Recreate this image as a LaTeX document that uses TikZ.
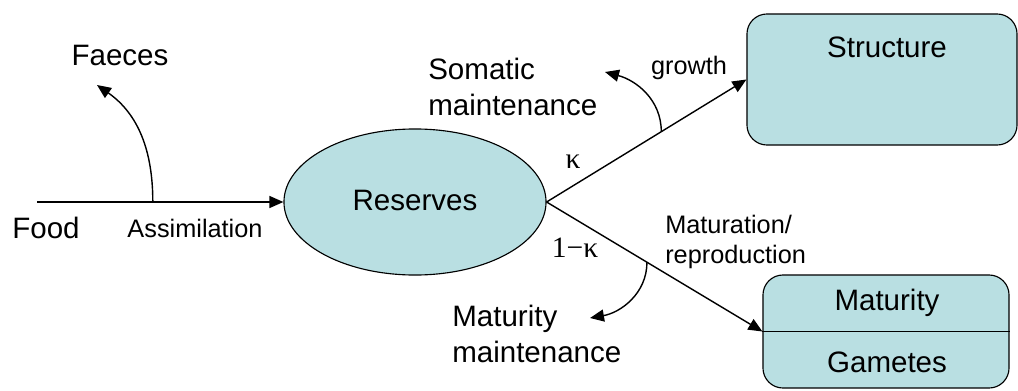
\documentclass[tikz,border=0pt]{standalone}
\usepackage{fontspec}
\setmainfont{Liberation Sans}
\newfontfamily\greekserif{Liberation Serif}
\usetikzlibrary{arrows.meta,positioning,shapes.geometric}
\definecolor{poolfill}{RGB}{185,223,226}
\begin{document}
\begin{tikzpicture}[
    x=0.025cm, y=0.025cm,
    pool/.style={draw, fill=poolfill, line width=0.8pt},
    box/.style={pool, rectangle, rounded corners=0.5cm},
    big/.style={font=\fontsize{21}{26}\selectfont, inner sep=0pt},
    small/.style={font=\fontsize{18}{21}\selectfont, inner sep=0pt},
    sym/.style={font=\fontsize{21}{26}\selectfont\greekserif, inner sep=0pt},
    line/.style={draw, line width=1pt, -{Triangle[length=0.35cm, width=0.3cm]}}
]
    \useasboundingbox (0,0) rectangle (1018,390);

    \node [pool, ellipse, minimum width=6.55cm, minimum height=3.65cm] (res) at (415,188) {};
    \node [big] (restext) at (415,190) {Reserves};

    \node [box, minimum width=6.75cm, minimum height=3.275cm] (struct) at (882,310.5) {};
    \node [big] (structtext) at (887,343) {Structure};

    \node [box, minimum width=6.15cm, minimum height=2.825cm] (repbox) at (886,58.5) {};
    \node [big] (matur) at (887,87) {Maturity};
    \node [big] (gamet) at (887,28) {Gametes};
    \draw [line width=0.8pt] (repbox.west) -- (repbox.east);

    \node [big] (food) at (46,162) {Food};
    \node [small] (assim) at (195,162) {Assimilation};
    \node [big] (faeces) at (120,335) {Faeces};
    \node [big, align=left, anchor=west] (soma) at (428,303) {Somatic\\maintenance};
    \node [small] (growth) at (689,322) {growth};
    \node [small, align=left, anchor=west] (matrep) at (665,148) {Maturation/\\reproduction};
    \node [big, align=left, anchor=west] (matmaint) at (452,56) {Maturity\\maintenance};
    \node [sym] (kappa) at (573,228) {κ};
    \node [sym] (onekappa) at (575,142) {1−κ};

    \coordinate (foodin) at (37,188);
    \coordinate (faectip) at (97,305);
    \coordinate (somatip) at (605,318);
    \coordinate (mattip) at (590,72);

    \draw [line] (foodin) -- (res.west) coordinate[pos=0.47] (assimpt);
    \draw [line] (res.east) -- (struct.west) coordinate[pos=0.574] (growpt);
    \draw [line] (res.east) -- (repbox.west) coordinate[pos=0.465] (reppt);

    \draw [line] (assimpt) to[out=90, in=-35] (faectip);
    \draw [line] (growpt) to[out=90, in=-15] (somatip);
    \draw [line] (reppt) to[out=-90, in=10] (mattip);
\end{tikzpicture}
\end{document}
